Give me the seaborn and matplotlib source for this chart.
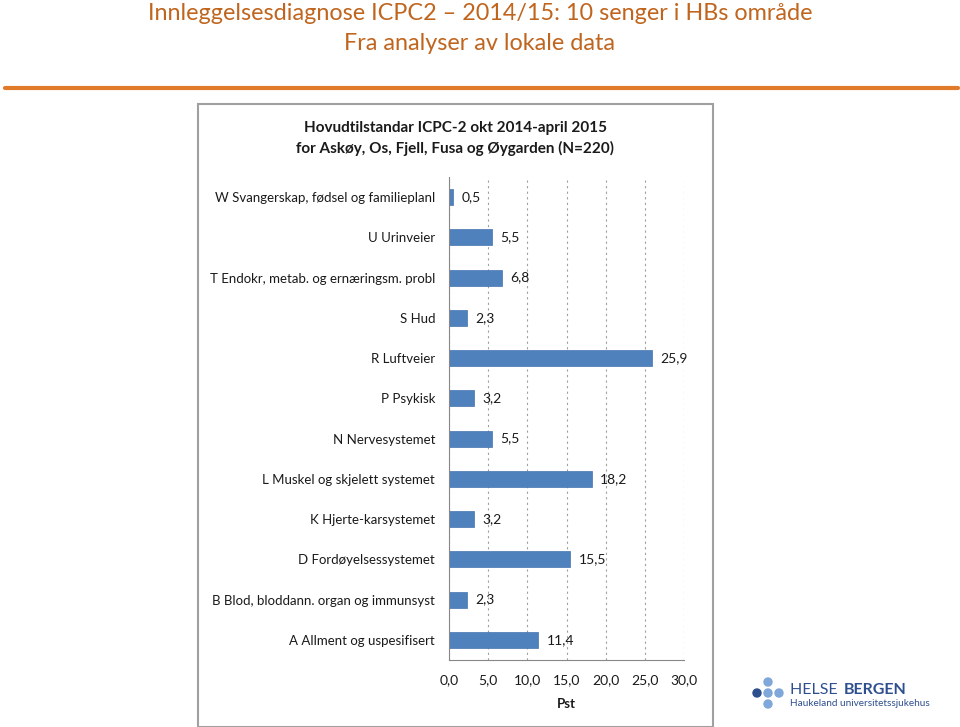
import matplotlib
matplotlib.use("Agg")
import matplotlib.pyplot as plt
import matplotlib.patches as mpatches
from matplotlib.ticker import FuncFormatter, FixedLocator
import pandas as pd
import seaborn as sns

# data
kategorier = [
    "W Svangerskap, fødsel og familieplanl",
    "U Urinveier",
    "T Endokr, metab. og ernæringsm. probl",
    "S Hud",
    "R Luftveier",
    "P Psykisk",
    "N Nervesystemet",
    "L Muskel og skjelett systemet",
    "K Hjerte-karsystemet",
    "D Fordøyelsessystemet",
    "B Blod, bloddann. organ og immunsyst",
    "A Allment og uspesifisert",
]
pst = [0.5, 5.5, 6.8, 2.3, 25.9, 3.2, 5.5, 18.2, 3.2, 15.5, 2.3, 11.4]
x_ticks = [0, 5, 10, 15, 20, 25, 30]

df = pd.DataFrame({"kategori": kategorier, "pst": pst})

sns.set_style("white")
plt.rcParams["font.family"] = ["Lato", "DejaVu Sans"]

fig = plt.figure(figsize=(9.6, 7.27), dpi=100)

# overskrift
oransje = "#C0651E"
fig.text(0.5, 0.982, "Innleggelsesdiagnose ICPC2 – 2014/15: 10 senger i HBs område",
         ha="center", va="center", fontsize=16.8, color=oransje)
fig.text(0.5, 0.940, "Fra analyser av lokale data",
         ha="center", va="center", fontsize=16.8, color=oransje)
fig.add_artist(plt.Line2D([5 / 960, 958 / 960], [1 - 88 / 727, 1 - 88 / 727],
                          color="#E07B2A", lw=3))

# ramme rundt diagrammet
fig.add_artist(mpatches.Rectangle((198 / 960, 0.0), (713 - 198) / 960, (727 - 104) / 727,
                                  transform=fig.transFigure, fill=False,
                                  edgecolor="#A0A0A0", lw=1.5))

fig.text(455 / 960, 1 - 128 / 727, "Hovudtilstandar ICPC-2 okt 2014-april 2015",
         ha="center", va="center", fontsize=11, fontweight="bold", color="#1a1a1a")
fig.text(455 / 960, 1 - 148 / 727, "for Askøy, Os, Fjell, Fusa og Øygarden (N=220)",
         ha="center", va="center", fontsize=11, fontweight="bold", color="#1a1a1a")

ax = fig.add_axes([449 / 960, 1 - 660 / 727, (684 - 449) / 960, (660 - 177) / 727])
sns.barplot(data=df, x="pst", y="kategori", orient="h", color="#4F81BD",
            width=0.4, saturation=1, edgecolor="#4573AE", linewidth=0.5, ax=ax)

for i, v in enumerate(pst):
    ax.annotate(f"{v:.1f}".replace(".", ","), (v, i), xytext=(6, 0),
                textcoords="offset points", ha="left", va="center",
                fontsize=10, color="#1a1a1a")

ax.set_xlim(0, 30)
ax.set_ylim(len(kategorier) - 0.5, -0.5)
ax.xaxis.set_major_locator(FixedLocator(x_ticks))
ax.xaxis.set_major_formatter(FuncFormatter(lambda x, p: f"{x:.1f}".replace(".", ",")))
ax.grid(axis="x", linestyle=(0, (2, 3)), color="#a0a0a0", lw=0.8)
ax.set_axisbelow(True)

ax.set_yticks([i + 0.5 for i in range(-1, len(kategorier))], minor=True)
ax.tick_params(axis="y", which="major", length=0, pad=10, labelsize=9.5, labelcolor="#1a1a1a")
ax.tick_params(axis="y", which="minor", length=5, color="#888888", direction="out")
ax.tick_params(axis="x", length=5, color="#888888", direction="inout", pad=8,
               labelsize=10, labelcolor="#1a1a1a")

for s in ["top", "right"]:
    ax.spines[s].set_visible(False)
for s in ["left", "bottom"]:
    ax.spines[s].set_color("#888888")
    ax.spines[s].set_linewidth(0.8)

ax.set_ylabel("")
ax.set_xlabel("Pst", fontsize=9.5, fontweight="bold", color="#1a1a1a", labelpad=8)

# logo
fig.text(790 / 960, 1 - 690 / 727, "HELSE ", ha="left", va="center", fontsize=11.5,
         color="#2E4F8E")
fig.text(844 / 960, 1 - 690 / 727, "BERGEN", ha="left", va="center", fontsize=11.5,
         fontweight="bold", color="#2E4F8E")
fig.text(790 / 960, 1 - 704 / 727, "Haukeland universitetssjukehus", ha="left",
         va="center", fontsize=7.2, color="#2E4F8E")
dots = [(768, 682, "#7FA7D9"), (757, 693, "#2E4F8E"), (768, 693, "#7FA7D9"),
        (779, 693, "#7FA7D9"), (768, 704, "#7FA7D9")]
for dx, dy, c in dots:
    fig.add_artist(mpatches.Ellipse((dx / 960, 1 - dy / 727), 8 / 960, 8 / 727,
                                    transform=fig.transFigure, color=c))

fig.savefig("out.png", dpi=100)
